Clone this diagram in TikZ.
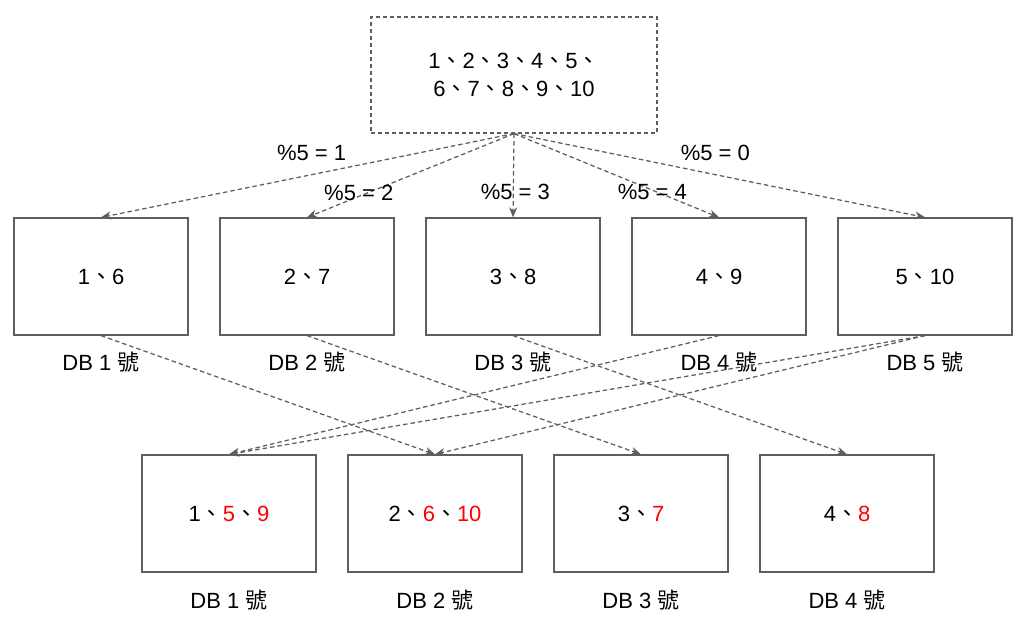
\documentclass[tikz,border=0pt]{standalone}
\usepackage{fontspec}
\setmainfont{Liberation Sans}
\newfontfamily\cjk{Noto Sans CJK TC}
\usetikzlibrary{arrows.meta}
\definecolor{edgegray}{HTML}{5E5E5E}
\definecolor{numred}{HTML}{FF0000}
\newcommand{\dun}{{\cjk 、}}
\newcommand{\hao}{{\cjk 號}}
\newcommand{\rednum}[1]{\textcolor{numred}{#1}}
\tikzset{
  dbbox/.style={draw=edgegray, line width=1.2pt, minimum width=174pt, minimum height=117pt, inner sep=0pt},
  srcbox/.style={dbbox, dash pattern=on 4pt off 3pt, minimum width=286pt, minimum height=116pt, align=center},
  moveline/.style={draw=edgegray, line width=1.25pt, dash pattern=on 4.5pt off 3pt, -{Stealth[length=10pt,width=8pt,inset=3pt]}},
  dblabel/.style={inner sep=0pt},
}
\begin{document}
\begin{tikzpicture}[x=1pt,y=-1pt,font=\fontsize{22}{28}\selectfont]
  \useasboundingbox (0,0) rectangle (1024,627);

  \node[srcbox] (src) at (514,75) {1\dun 2\dun 3\dun 4\dun 5\dun\\6\dun 7\dun 8\dun 9\dun 10};

  % old shards, %5
  \node[dbbox] (db1) at (101,276.5) {1\dun 6};
  \node[dbbox] (db2) at (307,276.5) {2\dun 7};
  \node[dbbox] (db3) at (513,276.5) {3\dun 8};
  \node[dbbox] (db4) at (719,276.5) {4\dun 9};
  \node[dbbox] (db5) at (925,276.5) {5\dun 10};

  \node[dblabel] (lab1) at (101,362) {DB 1 \hao};
  \node[dblabel] (lab2) at (307,362) {DB 2 \hao};
  \node[dblabel] (lab3) at (513,362) {DB 3 \hao};
  \node[dblabel] (lab4) at (719,362) {DB 4 \hao};
  \node[dblabel] (lab5) at (925,362) {DB 5 \hao};

  % new shards, %4
  \node[dbbox] (nb1) at (229,513.5) {1\dun \rednum{5}\dun \rednum{9}};
  \node[dbbox] (nb2) at (435,513.5) {2\dun \rednum{6}\dun \rednum{10}};
  \node[dbbox] (nb3) at (641,513.5) {3\dun \rednum{7}};
  \node[dbbox] (nb4) at (847,513.5) {4\dun \rednum{8}};

  \node[dblabel] (nlab1) at (229,600) {DB 1 \hao};
  \node[dblabel] (nlab2) at (435,600) {DB 2 \hao};
  \node[dblabel] (nlab3) at (641,600) {DB 3 \hao};
  \node[dblabel] (nlab4) at (847,600) {DB 4 \hao};

  \draw[moveline] (src.south) -- node[pos=0.49,above=10pt] (mod1) {\%5 = 1} (db1.north);
  \draw[moveline] (src.south) -- node[pos=0.75,yshift=4pt] (mod2) {\%5 = 2} (db2.north);
  \draw[moveline] (src.south) -- node[pos=0.69,xshift=2pt] (mod3) {\%5 = 3} (db3.north);
  \draw[moveline] (src.south) -- node[pos=0.675,yshift=-2pt] (mod4) {\%5 = 4} (db4.north);
  \draw[moveline] (src.south) -- node[pos=0.49,above=10pt] (mod0) {\%5 = 0} (db5.north);

  \draw[moveline] (db1.south) -- (nb2.north); % 6
  \draw[moveline] (db2.south) -- (nb3.north); % 7
  \draw[moveline] (db3.south) -- (nb4.north); % 8
  \draw[moveline] (db4.south) -- (nb1.north); % 9
  \draw[moveline] (db5.south) -- (nb1.north); % 5
  \draw[moveline] (db5.south) -- (nb2.north); % 10
\end{tikzpicture}
\end{document}
